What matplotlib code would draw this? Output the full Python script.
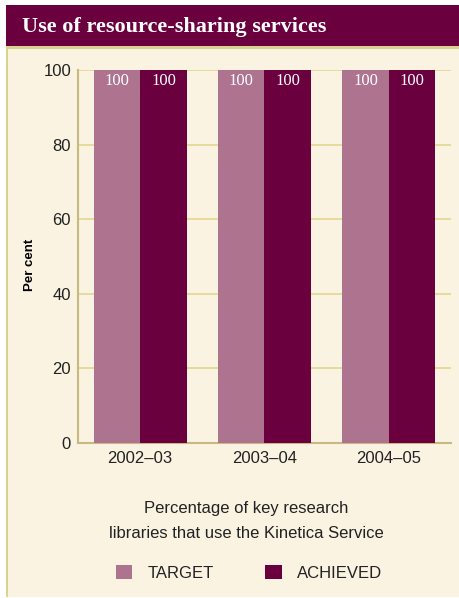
import matplotlib
matplotlib.use("Agg")
import matplotlib.pyplot as plt
from matplotlib.patches import Rectangle
import numpy as np

categories = ["2002\u201303", "2003\u201304", "2004\u201305"]
target = [100, 100, 100]
achieved = [100, 100, 100]
yticks = [0, 20, 40, 60, 80, 100]

title = "Use of resource-sharing services"
caption = "Percentage of key research\nlibraries that use the Kinetica Service"

MAROON = "#6B003F"
PINK = "#AD738F"
CREAM = "#FAF3E2"
GRID = "#E2D590"
SPINE = "#C7BA80"
BORDER = "#D9D38E"
TEXT = "#222222"

plt.rcParams['font.family'] = ['Liberation Sans', 'DejaVu Sans']

W, H = 460, 598
fig = plt.figure(figsize=(W / 100, H / 100), dpi=100)
fig.patch.set_facecolor("white")

def fx(px):
    return px / W

def fy(py):
    return 1 - py / H

# panel background
fig.add_artist(Rectangle((fx(6), fy(597)), fx(460) - fx(6), fy(47) - fy(597),
                         transform=fig.transFigure, facecolor=CREAM, edgecolor="none", zorder=0))
# left border
fig.add_artist(Rectangle((fx(6), fy(597)), fx(2.5), fy(47) - fy(597),
                         transform=fig.transFigure, facecolor=BORDER, edgecolor="none", zorder=1))
# title band
fig.add_artist(Rectangle((fx(6), fy(46)), fx(460) - fx(6), fy(5) - fy(46),
                         transform=fig.transFigure, facecolor=MAROON, edgecolor="none", zorder=1))
# line below title
fig.add_artist(Rectangle((fx(6), fy(48.5)), fx(460) - fx(6), fy(46) - fy(48.5),
                         transform=fig.transFigure, facecolor=BORDER, edgecolor="none", zorder=1))
fig.text(fx(22), fy(27), title, color="white", fontsize=16, fontweight="bold",
         family=["Liberation Serif", "DejaVu Serif"], va="center", ha="left")

ax = fig.add_axes([fx(78), fy(443), fx(451) - fx(78), fy(70) - fy(443)])
ax.set_facecolor("none")
x = np.arange(len(categories))
bw = 0.375
b1 = ax.bar(x - bw / 2, target, bw, color=PINK, zorder=3, label="TARGET")
b2 = ax.bar(x + bw / 2, achieved, bw, color=MAROON, zorder=3, label="ACHIEVED")

for bars, vals in ((b1, target), (b2, achieved)):
    for r, v in zip(bars, vals):
        ax.text(r.get_x() + r.get_width() / 2, v - 0.8, f"{v:g}", ha="center", va="top",
                color="white", fontsize=12,
                family=["Liberation Serif", "DejaVu Serif"], zorder=4)

ax.set_xlim(-0.5, 2.5)
ax.set_ylim(0, 100)
ax.set_yticks(yticks)
ax.set_xticks(x)
ax.set_xticklabels(categories)
ax.tick_params(axis="both", length=0, labelsize=12, colors=TEXT)
ax.tick_params(axis="y", pad=5)
ax.tick_params(axis="x", pad=6)
ax.yaxis.grid(True, color=GRID, linewidth=1.2, zorder=1)
ax.set_axisbelow(True)
for s in ("top", "right"):
    ax.spines[s].set_visible(False)
for s in ("left", "bottom"):
    ax.spines[s].set_color(SPINE)
    ax.spines[s].set_linewidth(1.5)

fig.text(fx(30), fy(265), "Per cent", rotation=90, fontsize=9.5, fontweight="bold",
         color="black", ha="center", va="center")

fig.text(fx(246), fy(521), caption, ha="center", va="center", fontsize=12,
         color=TEXT, linespacing=1.9)

# legend
handles = [b1[0], b2[0]]
leg = fig.legend(handles, ["TARGET", "ACHIEVED"], loc="center", ncol=2,
                 bbox_to_anchor=(fx(249), fy(573)), frameon=False, fontsize=12,
                 handlelength=1.0, handleheight=0.85, handletextpad=0.9,
                 columnspacing=3.1, labelcolor=TEXT)

fig.savefig("out.png", dpi=100)
